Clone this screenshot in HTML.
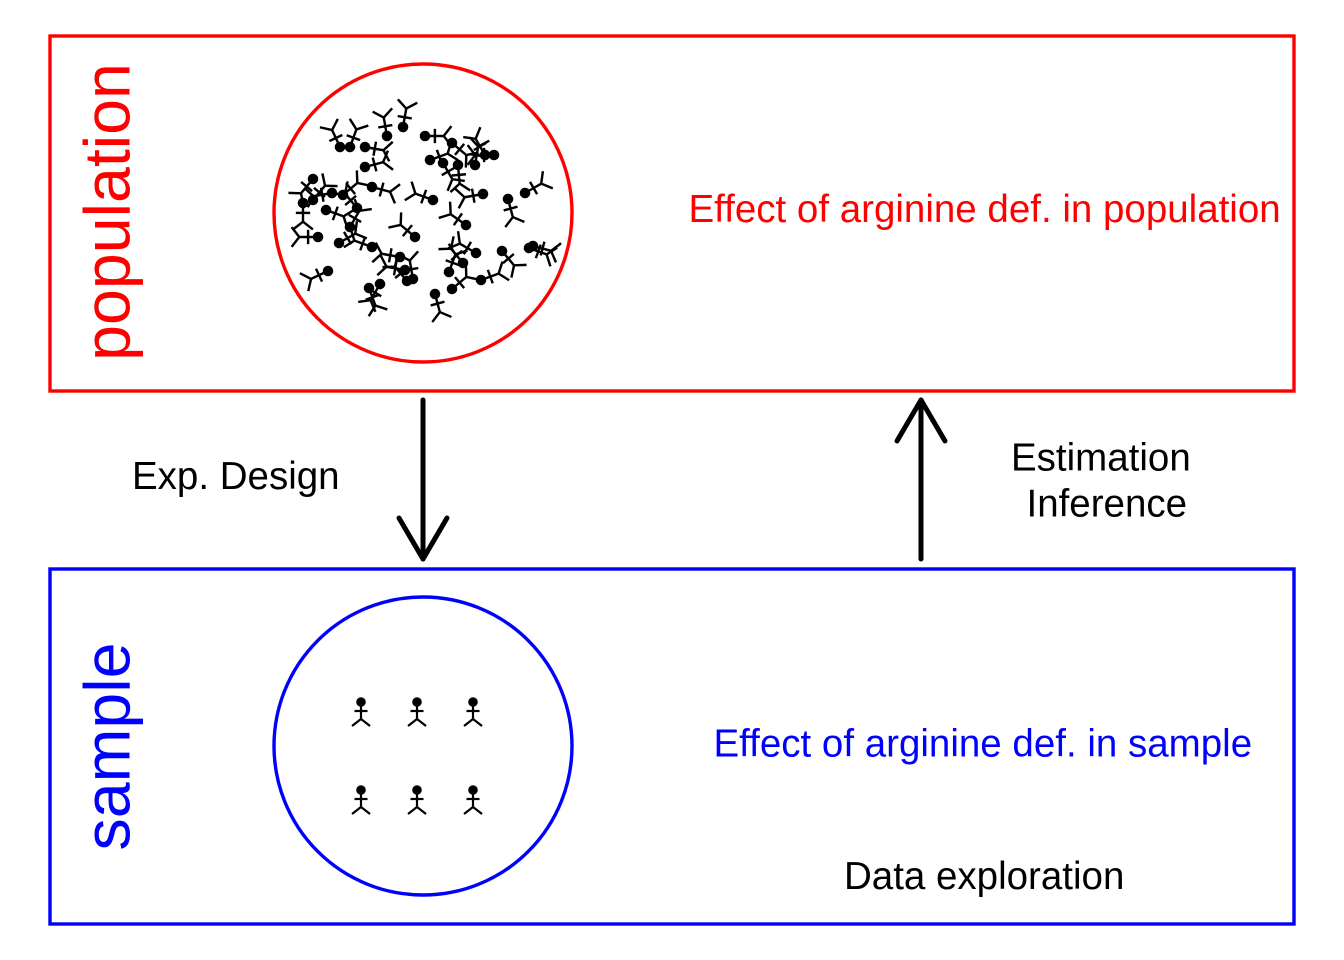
<!DOCTYPE html>
<html>
<head>
<meta charset="utf-8">
<style>
  html, body { margin:0; padding:0; background:#fff; }
  svg { display:block; }
  text { font-family: "Liberation Sans", Arial, sans-serif; }
</style>
</head>
<body>
<svg width="1344" height="960" viewBox="0 0 1344 960" xmlns="http://www.w3.org/2000/svg">
  <defs>
    <g id="fig" stroke="#000" stroke-width="2.2" fill="none">
      <circle cx="0" cy="0" r="4.8" fill="#000" stroke="none"/>
      <line x1="0" y1="0" x2="17" y2="0"/>
      <line x1="9" y1="-6.5" x2="9" y2="6.5"/>
      <line x1="17" y1="0" x2="24" y2="-9"/>
      <line x1="17" y1="0" x2="24" y2="9"/>
    </g>
  </defs>
  <rect width="1344" height="960" fill="#fff"/>

  <!-- Population box -->
  <rect x="50" y="36" width="1244" height="355" fill="none" stroke="#ff0000" stroke-width="3.4"/>
  <text x="0" y="0" transform="translate(129.5,212) rotate(-90)" text-anchor="middle" font-size="64.5" fill="#ff0000">population</text>
  <circle cx="423" cy="213" r="149" fill="none" stroke="#ff0000" stroke-width="3.4"/>
  <text x="688.5" y="222" font-size="38.5" fill="#ff0000">Effect of arginine def. in population</text>

  <!-- population figures -->
  <g>
    <use href="#fig" transform="translate(403,127) rotate(-80) scale(1.1)"/>
    <use href="#fig" transform="translate(387,136) rotate(-100) scale(1.1)"/>
    <use href="#fig" transform="translate(340,147) rotate(-115) scale(1.1)"/>
    <use href="#fig" transform="translate(350,147) rotate(-70) scale(1.1)"/>
    <use href="#fig" transform="translate(365,147) rotate(10) scale(1.1)"/>
    <use href="#fig" transform="translate(365,167) rotate(-15) scale(1.1)"/>
    <use href="#fig" transform="translate(425,136) rotate(0) scale(1.1)"/>
    <use href="#fig" transform="translate(452,143) rotate(40) scale(1.1)"/>
    <use href="#fig" transform="translate(430,160) rotate(-20) scale(1.1)"/>
    <use href="#fig" transform="translate(443,163) rotate(60) scale(1.1)"/>
    <use href="#fig" transform="translate(458,165) rotate(85) scale(1.1)"/>
    <use href="#fig" transform="translate(475,165) rotate(-80) scale(1.1)"/>
    <use href="#fig" transform="translate(485,155) rotate(-120) scale(1.1)"/>
    <use href="#fig" transform="translate(494,155) rotate(180) scale(1.1)"/>
    <use href="#fig" transform="translate(313,179) rotate(130) scale(1.1)"/>
    <use href="#fig" transform="translate(303,203) rotate(90) scale(1.1)"/>
    <use href="#fig" transform="translate(313,200) rotate(-50) scale(1.1)"/>
    <use href="#fig" transform="translate(332,193) rotate(170) scale(1.1)"/>
    <use href="#fig" transform="translate(343,195) rotate(-40) scale(1.1)"/>
    <use href="#fig" transform="translate(357,208) rotate(-130) scale(1.1)"/>
    <use href="#fig" transform="translate(372,187) rotate(15) scale(1.1)"/>
    <use href="#fig" transform="translate(433,200) rotate(-160) scale(1.1)"/>
    <use href="#fig" transform="translate(483,194) rotate(170) scale(1.1)"/>
    <use href="#fig" transform="translate(525,193) rotate(-30) scale(1.1)"/>
    <use href="#fig" transform="translate(508,199) rotate(75) scale(1.1)"/>
    <use href="#fig" transform="translate(326,210) rotate(20) scale(1.1)"/>
    <use href="#fig" transform="translate(350,227) rotate(-60) scale(1.1)"/>
    <use href="#fig" transform="translate(318,237) rotate(180) scale(1.1)"/>
    <use href="#fig" transform="translate(339,243) rotate(-30) scale(1.1)"/>
    <use href="#fig" transform="translate(415,237) rotate(-140) scale(1.1)"/>
    <use href="#fig" transform="translate(466,225) rotate(-145) scale(1.1)"/>
    <use href="#fig" transform="translate(372,247) rotate(200) scale(1.1)"/>
    <use href="#fig" transform="translate(400,257) rotate(190) scale(1.1)"/>
    <use href="#fig" transform="translate(476,253) rotate(-150) scale(1.1)"/>
    <use href="#fig" transform="translate(502,251) rotate(50) scale(1.1)"/>
    <use href="#fig" transform="translate(533,246) rotate(15) scale(1.1)"/>
    <use href="#fig" transform="translate(463,263) rotate(-130) scale(1.1)"/>
    <use href="#fig" transform="translate(405,270) rotate(190) scale(1.1)"/>
    <use href="#fig" transform="translate(407,281) rotate(-130) scale(1.1)"/>
    <use href="#fig" transform="translate(413,279) rotate(-100) scale(1.1)"/>
    <use href="#fig" transform="translate(449,272) rotate(-70) scale(1.1)"/>
    <use href="#fig" transform="translate(481,280) rotate(-20) scale(1.1)"/>
    <use href="#fig" transform="translate(328,271) rotate(155) scale(1.1)"/>
    <use href="#fig" transform="translate(380,284) rotate(120) scale(1.1)"/>
    <use href="#fig" transform="translate(369,288) rotate(70) scale(1.1)"/>
    <use href="#fig" transform="translate(452,289) rotate(-40) scale(1.1)"/>
    <use href="#fig" transform="translate(435,294) rotate(75) scale(1.1)"/>
    <use href="#fig" transform="translate(529,248) rotate(20) scale(1.1)"/>
  </g>

  <!-- Arrows -->
  <g stroke="#000" stroke-width="5" stroke-linecap="round" stroke-linejoin="round" fill="none">
    <line x1="423" y1="400" x2="423" y2="559"/>
    <polyline points="399,518 423,559 447,518"/>
    <line x1="921" y1="559" x2="921" y2="400"/>
    <polyline points="897,441 921,400 945,441"/>
  </g>
  <text x="132" y="489" font-size="38.5" fill="#000">Exp. Design</text>
  <text x="1011" y="470.5" font-size="38.5" fill="#000">Estimation</text>
  <text x="1026.5" y="516.5" font-size="38.5" fill="#000">Inference</text>

  <!-- Sample box -->
  <rect x="50" y="569" width="1244" height="355" fill="none" stroke="#0000ff" stroke-width="3.4"/>
  <text x="0" y="0" transform="translate(129.5,746.5) rotate(-90)" text-anchor="middle" font-size="64.5" fill="#0000ff">sample</text>
  <circle cx="423" cy="746" r="149" fill="none" stroke="#0000ff" stroke-width="3.4"/>
  <text x="713.5" y="756.5" font-size="38.5" fill="#0000ff">Effect of arginine def. in sample</text>
  <text x="844" y="889" font-size="38.5" fill="#000">Data exploration</text>

  <!-- sample figures -->
  <g>
    <use href="#fig" transform="translate(361,702) rotate(90)"/>
    <use href="#fig" transform="translate(417,702) rotate(90)"/>
    <use href="#fig" transform="translate(473,702) rotate(90)"/>
    <use href="#fig" transform="translate(361,790) rotate(90)"/>
    <use href="#fig" transform="translate(417,790) rotate(90)"/>
    <use href="#fig" transform="translate(473,790) rotate(90)"/>
  </g>
</svg>
</body>
</html>
